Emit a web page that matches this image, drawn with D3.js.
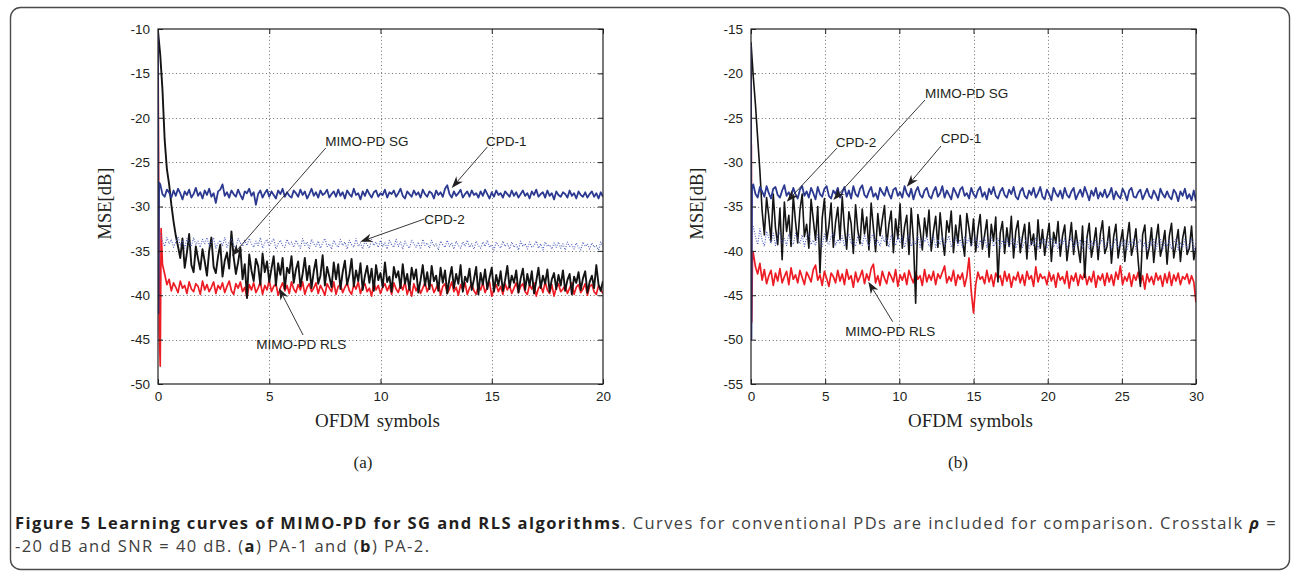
<!DOCTYPE html>
<html>
<head>
<meta charset="utf-8">
<script src="https://cdn.jsdelivr.net/npm/d3@7"></script>
<style>
  html, body { margin: 0; padding: 0; background: #fff; }
  svg { display: block; }
</style>
</head>
<body>
<svg id="fig" width="1292" height="572"></svg>
<script>
// ---------------- tick labels ----------------
const aXTicks = [0, 5, 10, 15, 20];
const aYTicks = [-50, -45, -40, -35, -30, -25, -20, -15, -10];
const bXTicks = [0, 5, 10, 15, 20, 25, 30];
const bYTicks = [-55, -50, -45, -40, -35, -30, -25, -20, -15];

// sampling interval (OFDM symbols) of each learning curve
const aStep = 0.1;
const bStep = 0.15;

// ---------------- (a) PA-1 ----------------
// CPD-1: initial transient, then samples from x = 0.1
const aCpd1Head = [[0, -10.5], [0.02, -42], [0.05, -27.3]];
const aCpd1 = [
  -27.5,-28.6,-28.9,-28.1,-28.4,-29.0,-28.2,-28.8,-28.0,-28.5,-29.2,-28.3,-28.7,-28.1,-29.0,-28.6,-27.9,-28.8,-28.4,-29.1,
  -28.2,-28.7,-28.0,-28.9,-28.5,-29.6,-28.3,-28.1,-27.5,-28.8,-28.4,-29.0,-28.2,-28.6,-28.9,-28.1,-28.7,-29.2,-28.3,-28.5,
  -28.0,-28.8,-28.4,-29.8,-28.6,-28.2,-29.0,-28.5,-28.1,-28.9,-28.3,-28.7,-29.1,-28.2,-28.6,-28.0,-28.9,-28.4,-28.8,-29.0,
  -28.2,-28.5,-28.9,-28.1,-28.7,-28.3,-29.1,-28.6,-28.0,-28.8,-28.4,-29.0,-28.2,-28.7,-28.5,-28.1,-29.0,-28.6,-28.3,-28.9,
  -28.1,-28.8,-28.4,-29.1,-28.2,-28.6,-28.9,-28.0,-28.7,-28.5,-29.2,-28.3,-28.8,-28.1,-28.6,-29.0,-28.4,-28.2,-28.9,-28.5,
  -28.7,-28.1,-29.0,-28.4,-28.6,-28.2,-28.9,-28.5,-28.0,-28.8,-29.1,-28.3,-28.6,-28.9,-28.2,-28.7,-28.4,-29.0,-28.1,-28.6,
  -28.9,-28.3,-28.5,-29.1,-28.2,-28.7,-28.4,-28.9,-28.0,-27.6,-28.6,-29.0,-28.3,-28.8,-28.5,-28.1,-29.0,-28.6,-28.3,-28.9,
  -28.2,-28.7,-28.5,-29.0,-28.3,-28.8,-28.1,-28.6,-29.1,-28.4,-28.9,-28.2,-28.7,-28.5,-29.0,-28.3,-28.6,-28.9,-28.2,-28.8,
  -28.4,-29.0,-28.6,-28.2,-28.8,-28.5,-29.1,-28.3,-28.7,-28.1,-28.9,-28.6,-28.4,-29.0,-28.2,-28.8,-28.5,-29.2,-28.3,-28.7,
  -28.9,-28.4,-28.6,-29.0,-28.2,-28.8,-28.5,-29.1,-28.3,-28.7,-28.9,-28.4,-29.0,-28.6,-28.3,-28.9,-28.5,-29.1,-28.4,-28.9
];
// CPD-2: samples from x = 0.1
const aCpd2 = [
  -33.0,-33.9,-34.5,-33.5,-34.2,-33.7,-34.6,-34.0,-33.4,-34.4,-33.8,-34.7,-33.6,-34.1,-34.5,-33.5,-34.3,-33.9,-34.6,-33.7,
  -34.2,-33.5,-34.5,-34.0,-33.6,-34.7,-34.1,-33.8,-34.4,-33.5,-34.6,-34.0,-33.7,-34.3,-34.7,-33.6,-34.1,-34.5,-33.8,-34.4,
  -33.6,-34.2,-34.6,-33.9,-34.4,-33.5,-34.7,-34.1,-33.7,-34.5,-34.0,-33.6,-34.8,-34.2,-33.8,-34.4,-34.6,-33.7,-34.3,-34.0,
  -34.6,-33.8,-34.3,-34.7,-33.6,-34.4,-34.0,-34.8,-33.7,-34.2,-34.5,-33.9,-34.7,-34.1,-33.6,-34.5,-34.2,-34.8,-33.8,-34.3,
  -34.6,-33.7,-34.4,-34.0,-34.8,-33.8,-34.3,-34.6,-33.6,-34.5,-34.1,-34.8,-33.9,-34.3,-34.7,-33.7,-34.4,-34.0,-34.6,-33.8,
  -34.5,-34.1,-34.8,-33.8,-34.3,-34.6,-33.7,-34.5,-34.0,-34.8,-33.9,-34.4,-34.7,-33.8,-34.2,-34.6,-34.0,-34.8,-33.7,-34.4,
  -34.1,-34.7,-33.8,-34.5,-34.2,-34.9,-33.9,-34.3,-34.6,-33.8,-34.5,-34.1,-34.8,-33.9,-34.4,-34.7,-34.0,-34.5,-33.8,-34.6,
  -34.2,-34.8,-33.9,-34.4,-34.7,-34.0,-34.5,-33.8,-34.6,-34.3,-34.9,-34.0,-34.4,-34.7,-33.9,-34.5,-34.2,-34.8,-34.0,-34.6,
  -34.3,-34.9,-33.9,-34.5,-34.2,-34.8,-34.0,-34.6,-34.4,-33.9,-34.7,-34.2,-34.9,-34.0,-34.5,-34.3,-34.8,-34.1,-34.6,-34.0,
  -34.7,-34.2,-34.9,-34.0,-34.5,-34.3,-34.8,-34.1,-34.6,-34.9,-34.0,-34.5,-34.2,-34.8,-34.1,-34.6,-34.4,-34.9,-34.0,-34.5
];
// MIMO-PD SG: samples from x = 0
const aSg = [
  -10.2,-12.9,-16.8,-22.5,-25.8,-27.5,-29.8,-31.7,-33.3,-34.5,-35.8,-33.6,-36.9,-35.2,-33.1,-36.6,-37.4,-34.5,-35.9,-37.1,
  -34.8,-36.2,-37.8,-35.0,-33.5,-36.8,-37.5,-35.6,-34.3,-37.9,-36.1,-35.2,-37.0,-32.8,-35.7,-37.6,-36.3,-34.6,-38.2,-36.5,
  -40.3,-35.4,-37.2,-38.4,-35.9,-36.7,-38.8,-35.3,-37.4,-36.2,-38.5,-37.0,-35.6,-38.9,-36.4,-37.7,-35.8,-39.3,-36.9,-37.5,
  -35.6,-38.6,-37.1,-36.2,-39.0,-37.6,-35.8,-38.3,-36.7,-39.2,-37.3,-36.0,-38.7,-37.8,-35.5,-38.9,-36.8,-37.9,-39.1,-36.3,
  -38.2,-36.5,-39.3,-37.4,-36.1,-38.8,-37.7,-35.9,-39.0,-37.2,-38.4,-36.4,-39.4,-37.8,-36.7,-38.6,-37.0,-39.5,-36.6,-38.3,
  -37.5,-39.1,-36.3,-38.5,-37.9,-39.6,-36.8,-38.0,-37.3,-39.2,-36.5,-38.7,-37.6,-39.4,-36.9,-38.2,-37.1,-39.7,-38.3,-36.6,
  -38.9,-37.4,-39.3,-36.7,-38.4,-37.8,-39.5,-36.9,-38.6,-37.2,-39.8,-38.1,-36.8,-39.2,-37.6,-38.7,-36.6,-39.6,-37.9,-38.5,
  -37.0,-39.4,-38.2,-36.8,-39.9,-37.5,-38.8,-37.1,-39.3,-38.0,-36.9,-39.6,-37.7,-38.9,-37.3,-39.5,-38.3,-36.7,-39.1,-37.8,
  -38.6,-37.2,-39.7,-38.1,-37.0,-39.4,-37.6,-38.9,-37.3,-39.8,-38.4,-36.9,-39.2,-37.8,-38.7,-37.1,-39.6,-38.2,-37.5,-39.3,
  -37.7,-38.9,-37.2,-39.5,-38.3,-37.6,-39.9,-37.9,-38.6,-37.4,-39.4,-38.1,-37.3,-39.7,-38.5,-37.8,-39.2,-36.6,-38.8,-39.5,
  -38.4
];
// MIMO-PD RLS: initial transient, then samples from x = 0.3
const aRlsHead = [[0, -11], [0.06, -44], [0.1, -48], [0.14, -32.5], [0.2, -36.5]];
const aRls = [
  -37.6,-38.8,-38.2,-39.5,-38.6,-39.1,-39.7,-38.4,-39.2,-38.9,-39.8,-38.5,-39.3,-39.6,-38.7,-39.0,-39.9,-38.4,-39.4,-38.8,
  -39.6,-39.1,-38.5,-39.8,-38.9,-39.3,-38.6,-39.7,-39.0,-38.4,-39.5,-39.9,-38.7,-39.2,-38.5,-39.6,-39.1,-40.3,-38.8,-39.4,
  -38.6,-39.7,-39.2,-38.5,-39.9,-38.9,-39.4,-38.3,-39.6,-39.0,-38.7,-40.0,-39.2,-38.6,-39.5,-38.9,-39.8,-38.5,-39.3,-39.7,
  -38.8,-39.4,-38.5,-39.9,-39.1,-38.7,-39.6,-39.2,-38.6,-39.8,-38.9,-39.4,-40.0,-38.7,-39.2,-39.6,-38.5,-39.9,-39.0,-38.8,
  -39.7,-39.1,-38.6,-39.5,-39.9,-38.8,-39.3,-38.5,-39.8,-39.0,-38.7,-39.6,-39.2,-40.1,-38.6,-39.4,-38.9,-39.8,-39.1,-38.7,
  -39.5,-38.9,-39.9,-38.6,-39.3,-39.7,-38.8,-39.4,-38.5,-39.9,-39.1,-40.1,-38.7,-39.5,-38.9,-39.8,-39.2,-38.6,-39.6,-39.0,
  -38.8,-39.7,-39.2,-38.6,-40.0,-39.0,-38.7,-39.8,-39.3,-38.5,-39.6,-39.1,-40.0,-38.8,-39.4,-38.6,-39.9,-39.2,-38.7,-39.5,
  -39.9,-38.9,-39.4,-38.6,-39.7,-39.1,-38.5,-40.1,-39.3,-38.8,-39.6,-39.0,-39.9,-38.7,-39.4,-38.9,-39.8,-39.2,-38.6,-39.7,
  -39.0,-38.7,-39.6,-39.9,-38.8,-39.3,-38.6,-40.1,-39.2,-38.9,-39.7,-38.5,-39.4,-39.8,-38.8,-40.1,-39.1,-38.7,-39.6,-39.3,
  -38.9,-39.8,-39.2,-38.6,-39.9,-39.1,-38.8,-39.7,-39.3,-38.7,-40.0,-39.0,-38.8,-39.6,-39.9,-38.9,-39.4,-39.8
];

// ---------------- (b) PA-2 ----------------
const bCpd1Head = [[0, -16.8], [0.03, -50], [0.07, -33]];
// CPD-1: samples from x = 0.15
const bCpd1 = [
  -32.5,-33.6,-34.0,-32.8,-33.3,-33.9,-32.7,-33.5,-34.1,-33.0,-32.8,-33.7,-34.0,-33.2,-32.6,-33.8,-33.4,-34.0,-32.9,-33.6,
  -34.1,-33.1,-32.7,-33.8,-33.3,-34.0,-32.9,-33.5,-34.2,-32.8,-33.6,-33.9,-33.0,-32.7,-33.8,-34.1,-33.2,-33.6,-32.9,-34.0,
  -33.4,-32.8,-33.9,-33.2,-34.1,-32.7,-33.6,-33.9,-33.0,-32.6,-33.7,-34.0,-33.3,-32.8,-33.9,-33.5,-34.2,-32.9,-33.4,-33.8,
  -32.8,-33.6,-34.1,-33.1,-32.9,-33.8,-33.4,-34.0,-32.7,-33.5,-33.9,-33.0,-34.2,-33.3,-32.8,-33.7,-34.0,-33.2,-32.9,-33.8,
  -34.1,-33.3,-32.8,-33.9,-33.5,-32.7,-34.0,-33.2,-33.7,-34.2,-32.9,-33.4,-34.0,-33.1,-32.8,-33.8,-33.5,-34.1,-32.9,-33.6,
  -34.0,-33.2,-32.8,-33.9,-33.4,-34.2,-33.0,-33.6,-32.8,-33.8,-34.1,-33.3,-32.9,-33.7,-34.0,-33.1,-33.6,-32.8,-33.9,-34.2,
  -33.3,-32.9,-33.8,-34.1,-33.2,-33.7,-32.9,-34.0,-33.5,-32.8,-33.9,-34.2,-33.1,-33.6,-34.3,-32.9,-33.5,-33.9,-33.2,-34.1,
  -32.9,-33.7,-34.0,-33.3,-32.9,-34.2,-33.6,-33.1,-33.9,-32.8,-33.5,-34.3,-33.2,-33.8,-32.9,-34.1,-33.4,-33.9,-33.1,-34.0,
  -33.6,-32.9,-34.2,-33.3,-33.8,-34.1,-33.0,-33.5,-34.3,-33.2,-32.9,-33.9,-34.0,-33.4,-33.1,-34.2,-33.6,-33.0,-33.8,-34.1,
  -33.2,-33.7,-34.3,-33.0,-33.6,-34.0,-33.3,-33.9,-34.2,-33.1,-33.5,-34.4,-33.3,-33.8,-33.0,-34.1,-33.6,-34.3,-33.2,-34.4
];
// CPD-2: samples from x = 0.15
const bCpd2 = [
  -37.2,-38.4,-39.3,-37.5,-38.8,-39.5,-37.8,-38.5,-39.2,-38.0,-39.4,-38.3,-37.9,-39.1,-38.6,-39.4,-38.1,-38.8,-39.3,-38.0,
  -38.7,-39.2,-38.2,-39.5,-38.5,-38.0,-39.3,-38.8,-39.4,-38.2,-38.6,-39.5,-38.1,-38.9,-39.3,-38.4,-38.0,-39.4,-38.7,-39.1,
  -38.3,-39.5,-38.6,-38.1,-39.2,-38.9,-39.5,-38.3,-38.7,-39.4,-38.2,-38.9,-39.5,-38.4,-38.1,-39.3,-38.8,-39.5,-38.3,-39.0,
  -38.5,-39.6,-38.2,-38.9,-39.4,-38.4,-39.1,-38.3,-39.6,-38.7,-38.2,-39.5,-38.9,-39.2,-38.3,-39.6,-38.6,-39.0,-38.4,-39.5,
  -38.9,-38.3,-39.6,-38.7,-39.3,-38.4,-39.5,-38.8,-38.3,-39.6,-39.0,-38.5,-39.4,-38.7,-39.6,-38.4,-39.1,-38.6,-39.5,-38.9,
  -38.4,-39.7,-38.8,-39.2,-38.5,-39.6,-38.9,-38.4,-39.5,-39.0,-38.6,-39.7,-38.8,-39.3,-38.5,-39.6,-39.1,-38.6,-39.7,-38.9,
  -38.5,-39.6,-39.0,-38.6,-39.7,-38.9,-39.4,-38.5,-39.8,-38.8,-39.2,-38.6,-39.7,-39.0,-38.5,-39.6,-38.9,-39.8,-38.7,-39.3,
  -38.6,-39.7,-39.1,-38.5,-39.8,-38.9,-39.4,-38.7,-39.7,-39.0,-38.6,-39.8,-38.9,-39.5,-38.7,-39.8,-39.1,-38.6,-39.7,-39.0,
  -38.7,-39.8,-39.2,-38.6,-39.7,-39.0,-39.5,-38.7,-39.9,-38.9,-39.3,-38.6,-39.8,-39.1,-38.7,-39.7,-39.0,-39.9,-38.8,-39.4,
  -38.7,-39.8,-39.1,-38.6,-39.9,-39.0,-39.5,-38.8,-39.8,-39.1,-38.6,-39.9,-39.0,-39.6,-38.7,-39.8,-39.2,-38.6,-39.9,-39.1
];
// MIMO-PD SG: samples from x = 0
const bSg = [
  -16.5,-20.3,-23.5,-27.3,-31.0,-35.5,-38.2,-34.0,-36.1,-38.9,-33.6,-37.4,-39.3,-35.2,-41.0,-34.5,-37.8,-36.0,-39.5,-33.8,
  -36.7,-39.1,-35.4,-33.6,-38.4,-37.0,-39.7,-34.2,-36.5,-38.8,-35.0,-42.5,-36.3,-34.1,-38.9,-37.2,-34.6,-39.6,-36.8,-35.1,
  -38.7,-33.9,-37.5,-39.8,-35.6,-36.9,-40.3,-34.8,-37.7,-39.2,-35.3,-38.1,-36.2,-39.9,-34.6,-37.4,-40.1,-35.8,-38.3,-36.5,
  -34.9,-39.4,-37.0,-35.5,-40.2,-36.4,-38.6,-34.7,-39.7,-37.3,-36.0,-40.4,-35.2,-38.8,-45.9,-35.9,-37.6,-39.9,-36.3,-38.4,
  -35.4,-40.0,-37.8,-36.1,-39.6,-35.7,-38.5,-40.5,-36.6,-37.9,-35.5,-40.2,-37.1,-39.1,-36.0,-38.7,-40.6,-35.8,-37.5,-39.4,
  -36.4,-40.1,-37.6,-35.9,-39.8,-38.2,-36.5,-40.7,-37.0,-38.9,-36.2,-43.5,-38.0,-36.7,-40.3,-37.4,-39.5,-36.1,-40.8,-37.8,
  -36.6,-40.2,-38.4,-37.0,-40.9,-36.8,-39.3,-38.1,-41.0,-36.5,-39.7,-37.6,-40.5,-38.6,-36.9,-41.2,-37.9,-39.1,-36.7,-40.6,
  -38.3,-37.1,-41.1,-39.0,-36.8,-40.4,-37.7,-39.6,-41.3,-37.2,-43.0,-38.5,-36.9,-40.7,-39.2,-37.4,-41.0,-38.1,-36.6,-40.3,
  -39.5,-37.3,-41.4,-38.4,-37.0,-40.8,-39.1,-37.6,-41.2,-38.7,-36.8,-40.5,-39.3,-37.5,-41.1,-44.0,-38.2,-37.1,-40.9,-39.6,
  -37.4,-41.3,-38.8,-37.0,-40.6,-39.4,-37.7,-41.5,-38.3,-36.9,-40.8,-39.2,-37.6,-41.2,-38.6,-37.3,-40.4,-39.7,-37.2,-41.0,
  -39.6
];
// MIMO-PD RLS: initial transient, then samples from x = 0.15
const bRlsHead = [[0.02, -28], [0.05, -48], [0.1, -40.5]];
const bRls = [
  -40.2,-41.8,-42.6,-41.4,-43.3,-42.1,-43.7,-42.8,-42.2,-43.9,-42.5,-43.4,-42.0,-43.6,-42.9,-42.3,-43.8,-41.9,-43.2,-42.7,
  -43.6,-42.2,-43.0,-43.8,-42.4,-42.9,-43.5,-42.1,-41.6,-43.3,-42.7,-43.9,-42.3,-43.1,-44.0,-42.5,-42.9,-43.6,-42.2,-43.4,
  -42.6,-43.8,-42.1,-43.2,-42.8,-44.1,-42.4,-43.5,-42.9,-42.2,-43.7,-42.6,-43.3,-42.0,-41.5,-43.6,-42.8,-43.9,-42.3,-43.1,
  -43.7,-42.4,-42.9,-43.5,-42.1,-44.0,-42.7,-43.3,-42.5,-43.8,-42.2,-43.0,-43.6,-42.4,-43.2,-42.8,-43.9,-42.1,-43.5,-42.7,
  -43.3,-42.3,-43.8,-42.6,-43.1,-42.4,-41.7,-43.6,-42.9,-43.4,-42.2,-43.9,-42.7,-43.2,-42.5,-44.0,-42.9,-40.8,-44.6,-47.0,
  -43.8,-42.4,-43.2,-42.9,-43.7,-42.2,-43.5,-42.7,-44.0,-42.5,-43.1,-42.8,-43.9,-42.3,-43.4,-42.6,-44.1,-42.9,-43.3,-42.4,
  -43.6,-42.7,-43.9,-42.3,-43.2,-42.8,-44.0,-41.8,-43.5,-42.6,-43.1,-42.9,-43.8,-42.4,-43.4,-42.7,-44.1,-42.5,-43.3,-42.9,
  -43.7,-42.3,-44.2,-42.8,-43.4,-42.5,-43.9,-42.7,-43.2,-42.4,-43.8,-42.9,-43.5,-42.3,-44.1,-42.8,-43.3,-42.6,-43.9,-42.5,
  -43.5,-42.7,-43.9,-42.4,-43.2,-41.7,-43.8,-42.9,-43.4,-42.5,-44.0,-42.7,-43.3,-42.4,-43.7,-42.8,-44.3,-42.6,-43.5,-42.9,
  -43.8,-42.5,-43.3,-42.8,-44.0,-42.6,-43.6,-42.4,-43.9,-42.7,-43.4,-42.5,-43.8,-42.9,-43.2,-42.6,-43.7,-42.8,-43.5,-45.8
];

// curve labels: text anchor and leader arrow (start -> tip), in data units
const aLabels = [
  { text: "MIMO-PD SG",  at: [7.52, -23.18], from: [7.54, -23.41], to: [3.32, -35.58] },
  { text: "CPD-1",       at: [14.74, -23.13], from: [14.80, -23.30], to: [13.20, -27.92] },
  { text: "CPD-2",       at: [11.97, -31.97], from: [11.97, -31.41], to: [9.09, -33.97] },
  { text: "MIMO-PD RLS", at: [4.42, -46.06], from: [6.52, -44.48], to: [5.43, -39.18] }
];
const bLabels = [
  { text: "MIMO-PD SG",  at: [11.73, -22.77], from: [11.73, -23.00], to: [5.55, -34.27] },
  { text: "CPD-2",       at: [5.71, -28.30], from: [5.78, -28.44], to: [2.41, -34.46] },
  { text: "CPD-1",       at: [12.79, -27.85], from: [12.81, -28.18], to: [10.50, -32.77] },
  { text: "MIMO-PD RLS", at: [6.36, -49.54], from: [9.55, -47.98], to: [7.91, -43.47] }
];

// ---------------- drawing ----------------
const svg = d3.select("#fig");
const INK = "#231f20";
const BLUE = "#2b3990";
const BLUE_DOT = "#4b5bbd";
const RED = "#ed1c24";
const BLACK = "#141414";

const sampled = (head, x0, step, vals) =>
  head.concat(vals.map((v, i) => [x0 + i * step, v]));

// outer rounded frame of the figure
svg.append("rect")
  .attr("x", 10.5).attr("y", 7.5)
  .attr("width", 1279).attr("height", 562)
  .attr("rx", 10).attr("ry", 10)
  .attr("fill", "none").attr("stroke", "#4a4a4a").attr("stroke-width", 1.4);

function drawPanel(cfg) {
  const { id, left, right, top, bottom, xDomain, yDomain, xTicks, yTicks,
          series, labels, yLabelX, tag, tagX } = cfg;
  const x = d3.scaleLinear().domain(xDomain).range([left, right]);
  const y = d3.scaleLinear().domain(yDomain).range([bottom, top]);
  const g = svg.append("g");

  // dotted grid
  const grid = g.append("g").attr("stroke", "#6f6f6f").attr("stroke-width", 1)
    .attr("stroke-dasharray", "1,2.6");
  grid.selectAll(".gx").data(xTicks.slice(1, -1)).join("line")
    .attr("x1", d => Math.round(x(d)) + 0.5).attr("x2", d => Math.round(x(d)) + 0.5)
    .attr("y1", top).attr("y2", bottom);
  grid.selectAll(".gy").data(yTicks.slice(1, -1)).join("line")
    .attr("y1", d => Math.round(y(d)) + 0.5).attr("y2", d => Math.round(y(d)) + 0.5)
    .attr("x1", left).attr("x2", right);

  // curves, clipped to the axes box
  g.append("clipPath").attr("id", "clip-" + id)
    .append("rect").attr("x", left).attr("y", top)
    .attr("width", right - left).attr("height", bottom - top);
  const line = d3.line().x(d => x(d[0])).y(d => y(d[1]));
  const curves = g.append("g").attr("clip-path", `url(#clip-${id})`);
  series.forEach(s => {
    curves.append("path")
      .attr("d", line(s.points))
      .attr("fill", "none")
      .attr("stroke", s.color)
      .attr("stroke-width", s.width)
      .attr("stroke-dasharray", s.dash || null)
      .attr("stroke-linejoin", "round");
  });

  // axes with inward ticks on all four sides
  const fmt = d => String(d);
  const styleAxis = sel => {
    sel.select(".domain").remove();
    sel.attr("color", INK);
    sel.selectAll("text")
      .attr("font-family", "'Liberation Sans', Arial, sans-serif")
      .attr("font-size", 13.5)
      .attr("fill", INK);
  };
  g.append("g").attr("transform", `translate(0,${bottom})`)
    .call(d3.axisBottom(x).tickValues(xTicks).tickFormat(fmt)
      .tickSizeInner(-5).tickSizeOuter(0).tickPadding(7))
    .call(styleAxis);
  g.append("g").attr("transform", `translate(0,${top})`)
    .call(d3.axisTop(x).tickValues(xTicks).tickFormat("")
      .tickSizeInner(-5).tickSizeOuter(0))
    .call(styleAxis);
  g.append("g").attr("transform", `translate(${left},0)`)
    .call(d3.axisLeft(y).tickValues(yTicks).tickFormat(fmt)
      .tickSizeInner(-5).tickSizeOuter(0).tickPadding(8))
    .call(styleAxis);
  g.append("g").attr("transform", `translate(${right},0)`)
    .call(d3.axisRight(y).tickValues(yTicks).tickFormat("")
      .tickSizeInner(-5).tickSizeOuter(0))
    .call(styleAxis);

  // axes box
  g.append("rect")
    .attr("x", left).attr("y", top)
    .attr("width", right - left).attr("height", bottom - top)
    .attr("fill", "none").attr("stroke", INK).attr("stroke-width", 1.2);

  // axis titles
  g.append("text")
    .attr("x", (left + right) / 2 - 3).attr("y", 427)
    .attr("text-anchor", "middle")
    .attr("font-family", "'Liberation Serif', 'Times New Roman', serif")
    .attr("font-size", 19).attr("fill", INK)
    .attr("word-spacing", 2)
    .text("OFDM symbols");
  g.append("text")
    .attr("transform", `translate(${yLabelX},${(top + bottom) / 2 - 3}) rotate(-90)`)
    .attr("text-anchor", "middle")
    .attr("font-family", "'Liberation Serif', 'Times New Roman', serif")
    .attr("font-size", 18.5).attr("fill", INK)
    .text("MSE[dB]");

  // curve labels with leader arrows
  const ann = g.append("g");
  labels.forEach(l => {
    const x1 = x(l.from[0]), y1 = y(l.from[1]);
    const x2 = x(l.to[0]), y2 = y(l.to[1]);
    const ang = Math.atan2(y2 - y1, x2 - x1);
    const L = 12, Wd = 4.3, N = 8.5;
    const pt = (a, b) => [x2 + a * Math.cos(ang) - b * Math.sin(ang),
                          y2 + a * Math.sin(ang) + b * Math.cos(ang)];
    const notch = pt(-N, 0);
    ann.append("line")
      .attr("x1", x1).attr("y1", y1).attr("x2", notch[0]).attr("y2", notch[1])
      .attr("stroke", INK).attr("stroke-width", 0.9);
    ann.append("path")
      .attr("d", "M" + [pt(0, 0), pt(-L, Wd), notch, pt(-L, -Wd)].map(p => p.join(",")).join("L") + "Z")
      .attr("fill", INK);
    ann.append("text")
      .attr("x", x(l.at[0])).attr("y", y(l.at[1]))
      .attr("font-family", "'Liberation Sans', Arial, sans-serif")
      .attr("font-size", 13.5).attr("fill", INK)
      .text(l.text);
  });

  // panel tag
  svg.append("text")
    .attr("x", tagX).attr("y", 468)
    .attr("text-anchor", "middle")
    .attr("font-family", "'Liberation Serif', 'Times New Roman', serif")
    .attr("font-size", 17).attr("fill", INK)
    .text(tag);
}

drawPanel({
  id: "a", left: 158, right: 603, top: 29, bottom: 384,
  xDomain: [0, 20], yDomain: [-50, -10], xTicks: aXTicks, yTicks: aYTicks,
  yLabelX: 111, tag: "(a)", tagX: 363,
  series: [
    { points: sampled(aRlsHead, 0.3, aStep, aRls), color: RED, width: 1.7 },
    { points: sampled([], 0, aStep, aSg), color: BLACK, width: 1.9 },
    { points: sampled([], 0.1, aStep, aCpd2), color: BLUE_DOT, width: 1.1, dash: "1,1.5" },
    { points: sampled(aCpd1Head, 0.1, aStep, aCpd1), color: BLUE, width: 1.8 }
  ],
  labels: aLabels
});

drawPanel({
  id: "b", left: 751, right: 1196, top: 29, bottom: 384,
  xDomain: [0, 30], yDomain: [-55, -15], xTicks: bXTicks, yTicks: bYTicks,
  yLabelX: 703, tag: "(b)", tagX: 958,
  series: [
    { points: sampled(bRlsHead, 0.15, bStep, bRls), color: RED, width: 1.7 },
    { points: sampled([], 0, bStep, bSg), color: BLACK, width: 1.6 },
    { points: sampled([], 0.15, bStep, bCpd2), color: BLUE_DOT, width: 1.1, dash: "1,1.5" },
    { points: sampled(bCpd1Head, 0.15, bStep, bCpd1), color: BLUE, width: 1.8 }
  ],
  labels: bLabels
});

// ---------------- caption ----------------
const CAP_FONT = "'Open Sans', 'Noto Sans', sans-serif";
const CAP_SIZE = 16.5;
const cap = svg.append("g").attr("font-family", CAP_FONT).attr("fill", "#404040")
  .attr("font-size", CAP_SIZE);
const line1 = cap.append("text").attr("x", 15).attr("y", 529);
line1.append("tspan").attr("font-weight", 700).attr("fill", INK)
  .text("Figure 5 Learning curves of MIMO-PD for SG and RLS algorithms");
line1.append("tspan").text(". Curves for conventional PDs are included for comparison. Crosstalk ");
line1.append("tspan").attr("font-style", "italic").attr("font-weight", 700).attr("fill", INK).text("ρ");
line1.append("tspan").text(" =");

const line2 = cap.append("text").attr("x", 15).attr("y", 552);
line2.append("tspan").text("-20 dB and SNR = 40 dB. (");
line2.append("tspan").attr("font-weight", 700).attr("fill", INK).text("a");
line2.append("tspan").text(") PA-1 and (");
line2.append("tspan").attr("font-weight", 700).attr("fill", INK).text("b");
line2.append("tspan").text(") PA-2.");

// track the letters so the short last line runs to its measure,
// then justify the first line with extra word space
const n2 = line2.text().length;
const w2 = line2.node().getComputedTextLength();
const n1 = line1.text().length;
const w1n = line1.node().getComputedTextLength();
const gaps = (line1.text().match(/ /g) || []).length;
let track = Math.max(0, (420 - w2) / n2);
track = Math.min(track, (1262 - w1n) / n1);
line1.attr("letter-spacing", track);
line2.attr("letter-spacing", track);
const w1 = line1.node().getComputedTextLength();
line1.attr("word-spacing", Math.max(0, (1262 - w1) / gaps));
</script>
</body>
</html>
